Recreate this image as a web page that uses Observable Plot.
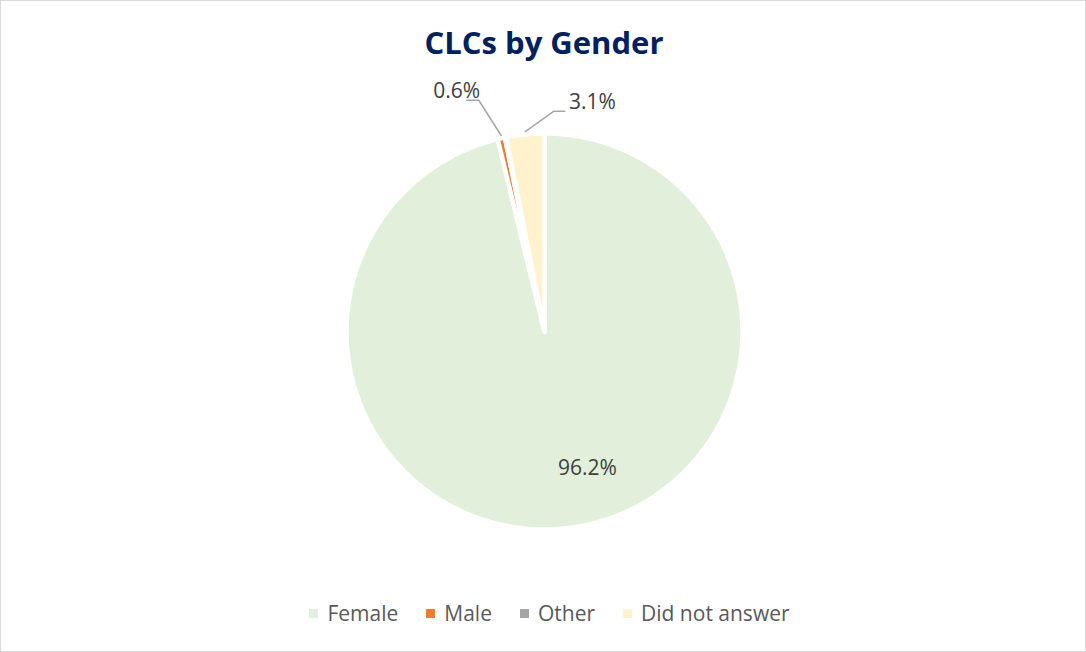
<!DOCTYPE html>
<html>
<head>
<meta charset="utf-8">
<script src="https://cdn.jsdelivr.net/npm/d3@7"></script>
<script src="https://cdn.jsdelivr.net/npm/@observablehq/plot@0.6"></script>
<style>
  html, body { margin: 0; padding: 0; background: #fff; }
  #chart { position: relative; width: 1086px; height: 652px; background: #fff; overflow: hidden; font-family: "Open Sans", sans-serif; }
  #frame { position: absolute; left: 0; top: 0; width: 1086px; height: 652px; box-sizing: border-box; border: 1px solid #d9d9d9; pointer-events: none; }
  #title { position: absolute; left: 0; top: 22px; width: 1088px; text-align: center; font-weight: 700; font-size: 31px; color: #002060; line-height: 40px; }
  #legend { position: absolute; left: 0; top: 598px; width: 1099px; display: flex; justify-content: center; align-items: center; font-size: 21px; color: #595959; line-height: 30px; }
  #legend .item { display: flex; align-items: center; margin: 0 14px; }
  #legend .sw { width: 9px; height: 9px; margin-right: 9px; }
  #plot { position: absolute; left: 0; top: 0; }
</style>
</head>
<body>
<div id="chart">
  <div id="plot"></div>
  <div id="title">CLCs by Gender</div>
  <div id="legend"></div>
  <div id="frame"></div>
</div>
<script>
// ---- data ----
const categories = ["Female", "Male", "Other", "Did not answer"];
const shares = [96.2, 0.6, 0.1, 3.1];
const colors = ["#E2EFDA", "#ED7D31", "#A5A5A5", "#FFF2CC"];
const labelled = [true, true, false, true];

// ---- layout (label anchors and leader lines, in pie-radius units) ----
const labelPos = {
  "Female": [0.217, -0.69],
  "Male": [-0.444, 1.214],
  "Did not answer": [0.242, 1.158]
};
const leaderPos = {
  "Male": [[-0.393, 1.168], [-0.332, 1.168], [-0.219, 0.99]],
  "Did not answer": [[0.102, 1.112], [0.046, 1.112], [-0.097, 1.01]]
};

// ---- build slices (clockwise from 12 o'clock) ----
const total = d3.sum(shares);
const slicePts = [];
let acc = 0;
categories.forEach((c, i) => {
  const a0 = acc / total * 2 * Math.PI;
  acc += shares[i];
  const a1 = acc / total * 2 * Math.PI;
  slicePts.push({cat: c, x: 0, y: 0});
  const n = Math.max(2, Math.ceil((a1 - a0) / (Math.PI / 360)));
  for (let k = 0; k <= n; k++) {
    const a = a0 + (a1 - a0) * k / n;
    slicePts.push({cat: c, x: Math.sin(a), y: Math.cos(a)});
  }
});

const labels = categories
  .map((c, i) => ({cat: c, text: d3.format(".1f")(shares[i]) + "%", show: labelled[i]}))
  .filter(d => d.show && labelPos[d.cat])
  .map(d => ({...d, x: labelPos[d.cat][0], y: labelPos[d.cat][1]}));

const leaders = [];
Object.entries(leaderPos).forEach(([c, pts]) => pts.forEach(p => leaders.push({cat: c, x: p[0], y: p[1]})));

const R = 198, cx = 544, cy = 331, W = 1086, H = 652;
const chart = Plot.plot({
  width: W,
  height: H,
  marginLeft: cx - R,
  marginRight: W - cx - R,
  marginTop: cy - R,
  marginBottom: H - cy - R,
  x: {domain: [-1, 1], axis: null},
  y: {domain: [-1, 1], axis: null},
  color: {domain: categories, range: colors},
  style: {background: "transparent", fontFamily: "Open Sans, sans-serif"},
  marks: [
    Plot.line(slicePts, {x: "x", y: "y", z: "cat", fill: "cat", stroke: "white", strokeWidth: 4.5, strokeLinejoin: "round", curve: "linear-closed"}),
    Plot.line(leaders, {x: "x", y: "y", z: "cat", stroke: "#A6A6A6", strokeWidth: 1.5}),
    Plot.text(labels, {x: "x", y: "y", text: "text", fontSize: 21, fill: "#404040"})
  ]
});
document.getElementById("plot").appendChild(chart);

// ---- legend ----
const legend = d3.select("#legend");
categories.forEach((c, i) => {
  const it = legend.append("div").attr("class", "item");
  it.append("div").attr("class", "sw").style("background", colors[i]);
  it.append("span").text(c);
});
</script>
</body>
</html>
